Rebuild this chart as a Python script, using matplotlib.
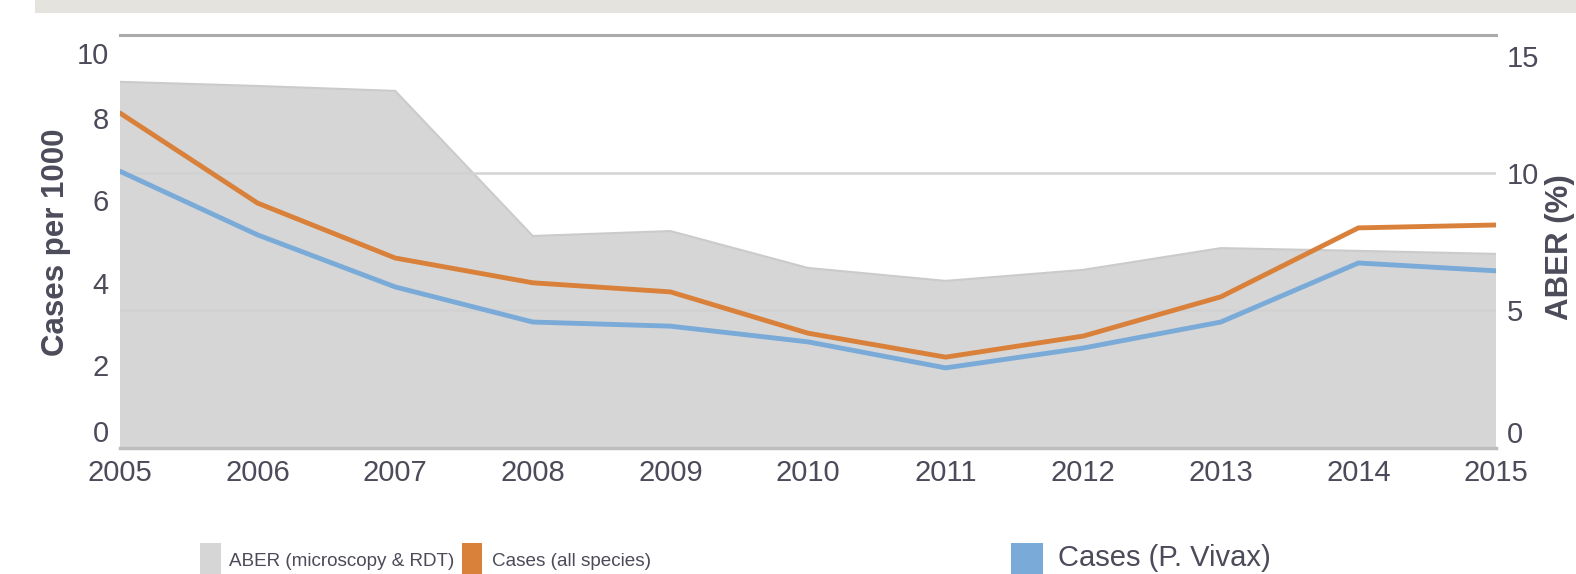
import matplotlib
matplotlib.use("Agg")
import matplotlib.pyplot as plt
import matplotlib.transforms as mtransforms
from matplotlib.patches import Rectangle

years = [2005, 2006, 2007, 2008, 2009, 2010, 2011, 2012, 2013, 2014, 2015]
cases_all = [8.11, 5.93, 4.60, 4.00, 3.78, 2.78, 2.20, 2.71, 3.66, 5.33, 5.40]
cases_vivax = [6.70, 5.16, 3.90, 3.05, 2.95, 2.57, 1.94, 2.42, 3.05, 4.48, 4.29]
aber = [13.30, 13.15, 12.97, 7.70, 7.88, 6.54, 6.07, 6.47, 7.26, 7.16, 7.05]

left_ticks = [0, 2, 4, 6, 8, 10]
right_ticks = [0, 5, 10, 15]
legend_labels = ["ABER (microscopy & RDT)", "Cases (all species)", "Cases (P. Vivax)"]

TEXT = "#4b4b5a"
ORANGE = "#d9813a"
BLUE = "#7aaad7"
FILL = "#d6d6d6"
FILL_EDGE = "#cbcbcb"
GRID = "#d2d2d2"

plt.rcParams['font.family'] = ['Liberation Sans', 'DejaVu Sans']

W, H = 1576, 574
fig = plt.figure(figsize=(W / 100, H / 100), dpi=100)
fig.patch.set_facecolor("white")

# top band
fig.patches.append(Rectangle((35 / W, 1 - 13 / H), 1 - 35 / W, 13 / H,
                             transform=fig.transFigure, facecolor="#e4e3de",
                             edgecolor="none"))

x0, x1, ytop, ybot = 120, 1496, 35, 448
ax = fig.add_axes([x0 / W, 1 - ybot / H, (x1 - x0) / W, (ybot - ytop) / H])
ax2 = ax.twinx()

# ABER area on right axis
ax2.fill_between(years, 0, aber, facecolor=FILL, edgecolor="none", zorder=1)
ax2.plot(years, aber, color=FILL_EDGE, lw=1.5, zorder=1.5)
ax2.set_ylim(0, 15)
ax2.set_yticks(right_ticks)
ax2.set_axisbelow(False)
ax2.grid(axis="y", color=GRID, lw=1.8, zorder=2)
ax2.axhline(15, color="#ababab", lw=2.2, zorder=3, clip_on=False)
ax2.axhline(0, color="#bdbdbd", lw=2.5, zorder=3, clip_on=False)

# lines on left axis
ax.set_zorder(ax2.get_zorder() + 1)
ax.patch.set_visible(False)
ax.plot(years, cases_all, color=ORANGE, lw=3.5, solid_capstyle="round",
        solid_joinstyle="round")
ax.plot(years, cases_vivax, color=BLUE, lw=3.5, solid_capstyle="round",
        solid_joinstyle="round")
ax.set_ylim(0, 10)
ax.set_xlim(years[0], years[-1])
ax.set_yticks(left_ticks)
ax.set_xticks(years)
ax.set_xticklabels([str(y) for y in years])

for a in (ax, ax2):
    for s in a.spines.values():
        s.set_visible(False)
    a.tick_params(length=0, colors=TEXT)

ax.tick_params(axis="y", labelsize=21, pad=8)
ax.tick_params(axis="x", labelsize=21, pad=8)
ax2.tick_params(axis="y", labelsize=21, pad=8)

# squeeze extreme tick labels inward
def shift(label, dy_px):
    off = mtransforms.ScaledTranslation(0, dy_px / 100, fig.dpi_scale_trans)
    label.set_transform(label.get_transform() + off)

lt = ax.yaxis.get_major_ticks()
shift(lt[0].label1, 17)
shift(lt[-1].label1, -18)
rt = ax2.yaxis.get_major_ticks()
shift(rt[0].label2, 16)
shift(rt[-1].label2, -21)

fig.text(56 / W, 1 - 242 / H, "Cases per 1000", rotation=90, ha="center",
         va="center", fontsize=22.5, fontweight="bold", color=TEXT)
fig.text(1575 / W, 1 - 247 / H, "ABER (%)", rotation=90, ha="right",
         va="center", fontsize=22.5, fontweight="bold", color=TEXT)

# legend
leg = [
    (200, 21, FILL, 229, legend_labels[0], 13.6),
    (462, 20, ORANGE, 492, legend_labels[1], 13.6),
    (1011, 32, BLUE, 1058, legend_labels[2], 21),
]
for sx, sw, col, tx, lab, fs in leg:
    fig.patches.append(Rectangle((sx / W, 0), sw / W, (574 - 543) / H,
                                 transform=fig.transFigure, facecolor=col,
                                 edgecolor="none"))
    fig.text(tx / W, 1 - 566 / H, lab, ha="left", va="baseline",
             fontsize=fs, color=TEXT)

fig.savefig("out.png", dpi=100)
